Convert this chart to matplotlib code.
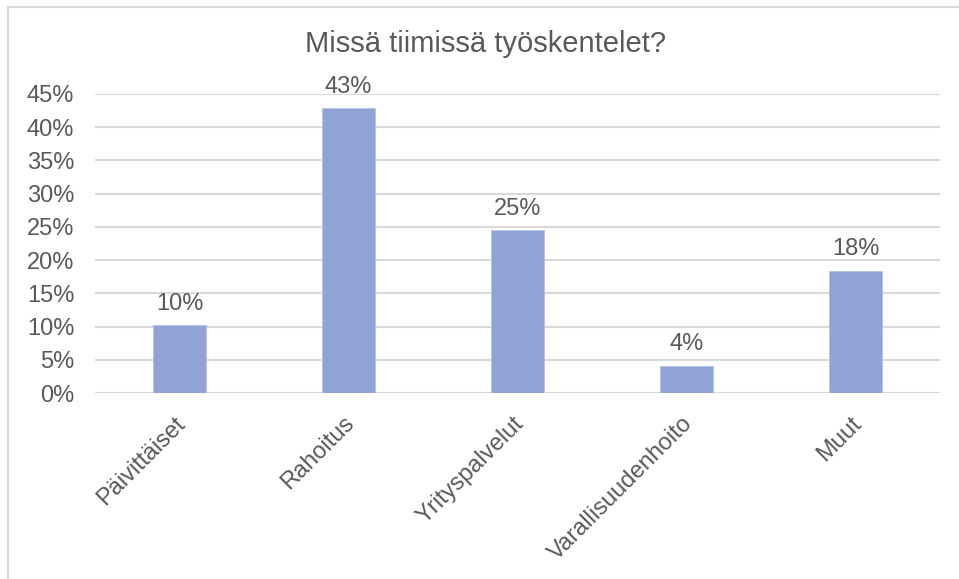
import matplotlib.pyplot as plt
import matplotlib.transforms as mtransforms
from matplotlib.patches import Rectangle
from matplotlib.ticker import PercentFormatter

plt.rcParams['font.family'] = ['Liberation Sans', 'DejaVu Sans']

categories = ["Päivittäiset", "Rahoitus", "Yrityspalvelut", "Varallisuudenhoito", "Muut"]
shares = [0.102, 0.429, 0.245, 0.041, 0.184]
labels = ["10%", "43%", "25%", "4%", "18%"]

text_col = "#595959"
grid_col = "#D9D9D9"
bar_col = "#8FA4D5"

fig = plt.figure(figsize=(9.59, 5.79), dpi=100)
ax = fig.add_axes([95 / 959, 1 - 393 / 579, 845 / 959, 299 / 579])

# chart frame (only left/top edges fall inside the image)
fig.patches.append(Rectangle((8 / 959, -0.1), 1.2, 1 - 7 / 579 + 0.1,
                             transform=fig.transFigure, fill=False,
                             edgecolor=grid_col, linewidth=1.5))

x = range(len(categories))
ax.bar(x, shares, width=0.31, color=bar_col, edgecolor="#B4C3E6", linewidth=0.6, zorder=3)

for i, v in enumerate(shares):
    ax.annotate(labels[i], (i, v), xytext=(0, 11), textcoords="offset points",
                ha="center", va="baseline", fontsize=17, color=text_col)

ax.set_xlim(-0.5, len(categories) - 0.5)
ax.set_ylim(0, 0.45)
ax.set_yticks([i * 0.05 for i in range(10)])
ax.yaxis.set_major_formatter(PercentFormatter(1.0, decimals=0))
ax.grid(axis="y", color=grid_col, linewidth=1.5, zorder=0)
ax.set_axisbelow(True)
for s in ax.spines.values():
    s.set_visible(False)

ax.set_xticks(list(x))
ax.set_xticklabels(categories, rotation=45, ha="right", rotation_mode="anchor")
ax.tick_params(axis="y", length=0, pad=15, labelsize=17, labelcolor=text_col)
ax.tick_params(axis="x", length=0, pad=14, labelsize=17, labelcolor=text_col)

# nudge category labels slightly left
shift = mtransforms.ScaledTranslation(-5 / 100, 0, fig.dpi_scale_trans)
for lbl in ax.get_xticklabels():
    lbl.set_transform(lbl.get_transform() + shift)

fig.text(486 / 959, 1 - 44 / 579, "Missä tiimissä työskentelet?", ha="center", va="center",
         fontsize=21, color=text_col)

fig.savefig("out.png", dpi=100)
